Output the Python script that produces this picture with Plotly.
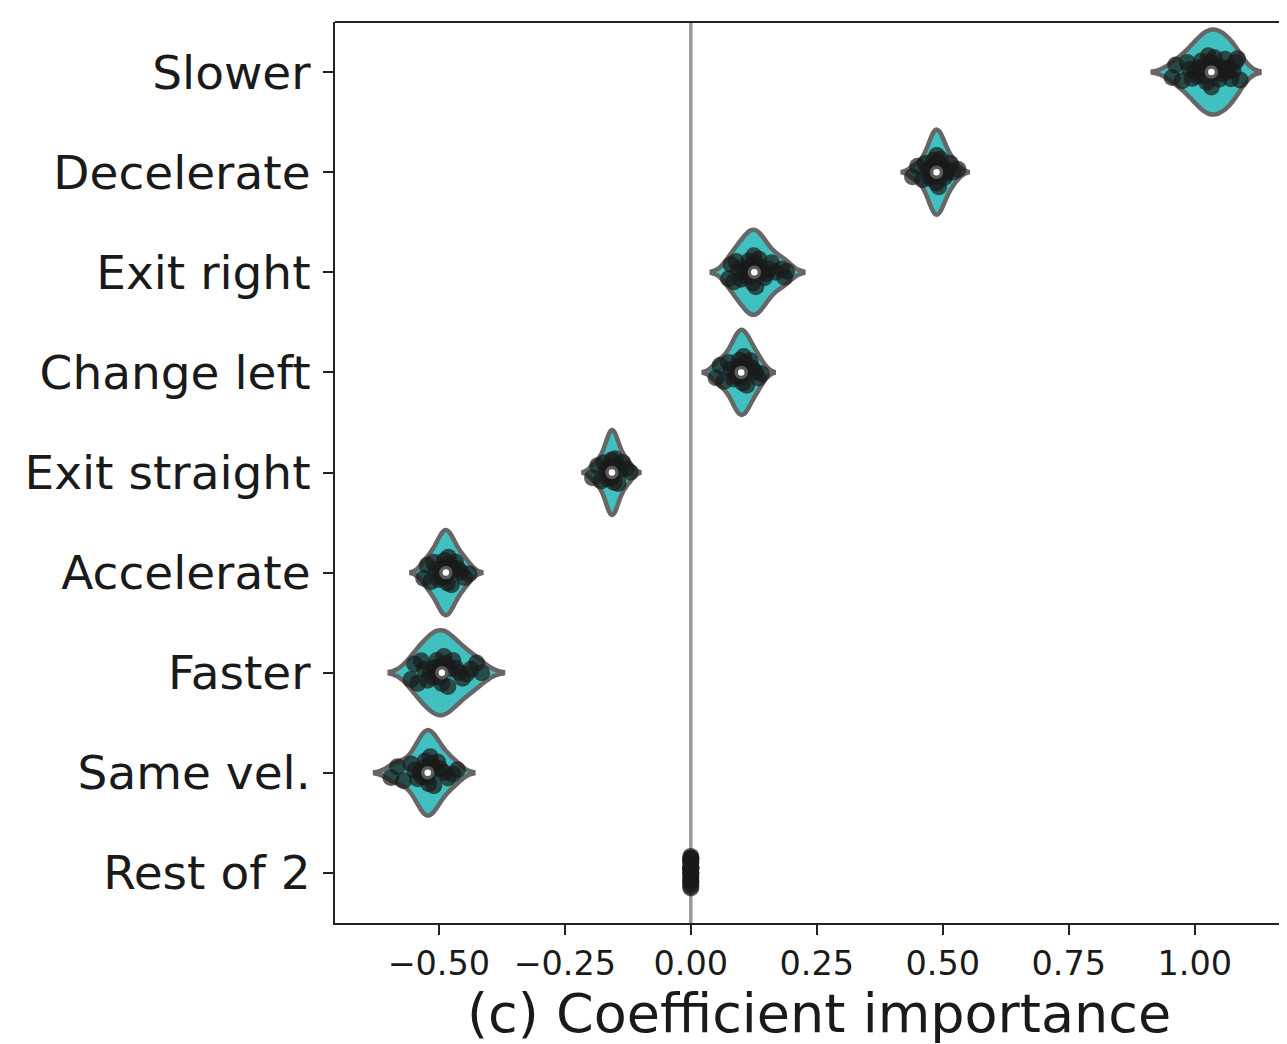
import numpy as np
import plotly.graph_objects as go

categories = ["Slower", "Decelerate", "Exit right", "Change left", "Exit straight",
              "Accelerate", "Faster", "Same vel.", "Rest of 2"]

slower = [0.955, 0.962, 0.975, 0.985, 0.99, 0.995, 1.00, 1.005, 1.01, 1.013, 1.017,
          1.02, 1.024, 1.027, 1.03, 1.033, 1.036, 1.039, 1.042, 1.045, 1.048,
          1.052, 1.056, 1.06, 1.064, 1.068, 1.072, 1.076, 1.08, 1.085, 1.09]
decelerate = [0.44, 0.45, 0.46, 0.465, 0.47, 0.473, 0.476, 0.478, 0.48, 0.482,
              0.484, 0.486, 0.487, 0.488, 0.49, 0.492, 0.494, 0.496, 0.498, 0.50,
              0.503, 0.506, 0.51, 0.515, 0.52, 0.53]
exit_right = [0.075, 0.08, 0.085, 0.09, 0.095, 0.10, 0.105, 0.108, 0.112, 0.115,
              0.118, 0.12, 0.123, 0.125, 0.127, 0.129, 0.132, 0.135, 0.138, 0.142,
              0.146, 0.15, 0.155, 0.16, 0.168, 0.18, 0.186, 0.19]
change_left = [0.05, 0.058, 0.066, 0.075, 0.08, 0.085, 0.088, 0.091, 0.094, 0.097,
               0.099, 0.101, 0.103, 0.105, 0.108, 0.111, 0.114, 0.118, 0.122, 0.128,
               0.134, 0.14]
exit_straight = [-0.195, -0.185, -0.178, -0.172, -0.168, -0.165, -0.162, -0.16,
                 -0.158, -0.157, -0.156, -0.154, -0.152, -0.15, -0.147, -0.144,
                 -0.14, -0.135, -0.128, -0.12]
accelerate = [-0.53, -0.523, -0.516, -0.51, -0.505, -0.50, -0.497, -0.494, -0.491,
              -0.489, -0.487, -0.485, -0.483, -0.481, -0.478, -0.475, -0.471,
              -0.467, -0.462, -0.456, -0.449, -0.44]
faster = [-0.555, -0.548, -0.542, -0.535, -0.528, -0.522, -0.517, -0.512, -0.508,
          -0.504, -0.50, -0.497, -0.494, -0.49, -0.486, -0.482, -0.477, -0.472,
          -0.466, -0.46, -0.453, -0.445, -0.436, -0.425, -0.415]
same_vel = [-0.595, -0.582, -0.57, -0.555, -0.548, -0.542, -0.537, -0.533, -0.53,
            -0.527, -0.524, -0.522, -0.52, -0.517, -0.514, -0.51, -0.506, -0.502,
            -0.497, -0.49, -0.482, -0.472, -0.463]
rest_of_2 = [0.0] * 25

series = [slower, decelerate, exit_right, change_left, exit_straight,
          accelerate, faster, same_vel, rest_of_2]

x_ticks = [-0.50, -0.25, 0.00, 0.25, 0.50, 0.75, 1.00]
x_ticktext = ["\u22120.50", "\u22120.25", "0.00", "0.25", "0.50", "0.75", "1.00"]

FILL = "#40c0c0"
EDGE = "#666666"
FONT = "DejaVu Sans"

fig = go.Figure()

for cat, vals in zip(categories, series):
    constant = np.std(vals) == 0
    fig.add_trace(go.Violin(
        x=vals, y=[cat] * len(vals), orientation="h",
        fillcolor="rgba(0,0,0,0)" if constant else FILL,
        line=dict(color=EDGE if not constant else "rgba(0,0,0,0)", width=4.5),
        bandwidth=0.01 if constant else None,
        points="all", pointpos=0, jitter=0.4,
        marker=dict(color="#1a1a1a", size=17, opacity=0.7, line=dict(width=0)),
        width=0.85, scalemode="width", spanmode="soft",
        meanline=dict(visible=False), box=dict(visible=False),
        showlegend=False, hoverinfo="skip",
    ))

medians = [float(np.median(v)) for v in series]
fig.add_trace(go.Scatter(
    x=medians[:-1], y=categories[:-1], mode="markers",
    marker=dict(color="white", size=10, line=dict(color="#5a5a5a", width=3.5)),
    showlegend=False, hoverinfo="skip",
))

fig.add_shape(type="line", xref="x", yref="paper", x0=0, x1=0, y0=0, y1=1,
              line=dict(color="#999999", width=3.5), layer="below")
# top spine
fig.add_shape(type="line", xref="paper", yref="paper", x0=0, x1=1, y0=1, y1=1,
              line=dict(color="#222222", width=2))

fig.update_layout(
    width=1279, height=1036,
    margin=dict(l=327, r=0, t=14, b=121),
    paper_bgcolor="white", plot_bgcolor="white",
    font=dict(family=FONT, color="#1a1a1a"),
    xaxis=dict(
        range=[-0.706, 1.183], tickvals=x_ticks, ticktext=x_ticktext,
        showgrid=False, zeroline=False, showline=True, linecolor="#222222",
        linewidth=2, ticks="outside", ticklen=10, tickwidth=2, tickcolor="#222222",
        tickfont=dict(size=33.5, family=FONT, color="#1a1a1a"),
    ),
    yaxis=dict(
        type="category", categoryorder="array", categoryarray=categories,
        range=[8.5, -0.5], showgrid=False, zeroline=False, showline=True,
        linecolor="#222222", linewidth=2, ticks="outside", ticklen=10,
        tickwidth=2, tickcolor="#222222",
        tickfont=dict(size=47, family=FONT, color="#1a1a1a"),
        ticklabelstandoff=3,
    ),
    annotations=[dict(
        text="(c) Coefficient importance", xref="paper", yref="paper",
        x=0.508, y=-0.1, xanchor="center", yanchor="middle", showarrow=False,
        font=dict(size=54, family=FONT, color="#1a1a1a"),
    )],
)

fig.write_html("out.html")
